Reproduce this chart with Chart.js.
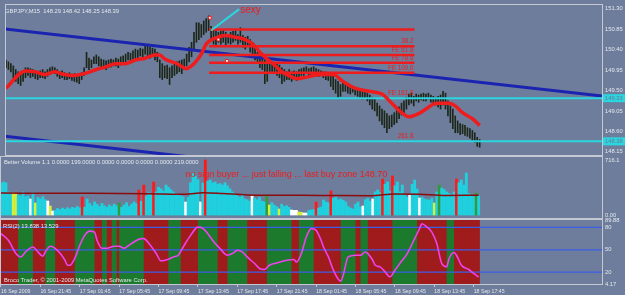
<!DOCTYPE html>
<html>
<head>
<meta charset="utf-8">
<title>GBPJPY,M15</title>
<script src="https://cdn.jsdelivr.net/npm/chart.js"></script>
<style>
    html, body { margin: 0; padding: 0; background: #6e7d9b; }
    body { width: 625px; height: 295px; position: relative; overflow: hidden; }
    canvas { position: absolute; left: 0; }
    #priceChart { top: 0; }
    #volumeChart { top: 150px; }
    #rsiChart { top: 212px; }
</style>
</head>
<body>
<canvas id="priceChart" width="625" height="162"></canvas>
<canvas id="volumeChart" width="625" height="76"></canvas>
<canvas id="rsiChart" width="625" height="83"></canvas>
<script>
// ---- data (M15 bars, bar 0 = 16 Sep 17:45) ----
const timeLabels = ['16 Sep 2009', '16 Sep 21:45', '17 Sep 01:45', '17 Sep 05:45', '17 Sep 09:45',
    '17 Sep 13:45', '17 Sep 17:45', '17 Sep 21:45', '18 Sep 01:45', '18 Sep 05:45',
    '18 Sep 09:45', '18 Sep 13:45', '18 Sep 17:45'];
const barsPerLabel = 16;

const highs = [
    150.17,150.13,150.09,150.04,149.96,149.91,149.87,149.91,150.00,150.00,
    149.98,149.96,149.93,149.91,149.93,149.96,149.91,149.96,150.00,150.02,
    150.00,149.96,149.91,149.93,149.89,149.87,149.89,149.85,149.87,149.85,
    149.87,149.89,150.00,150.34,150.21,150.17,150.24,150.28,150.24,150.19,
    150.17,150.15,150.17,150.19,150.17,150.21,150.19,150.24,150.26,150.30,
    150.34,150.32,150.37,150.41,150.39,150.43,150.41,150.50,150.47,150.45,
    150.43,150.41,150.34,150.17,150.09,150.04,150.06,150.00,150.04,150.09,
    150.13,150.15,150.17,150.19,150.30,150.45,150.56,150.78,150.99,150.99,
    150.95,151.03,151.08,151.14,150.91,150.84,150.82,150.78,150.80,150.82,
    150.78,150.73,150.78,150.80,150.82,150.73,150.88,150.71,150.67,150.69,
    150.62,150.56,150.45,150.34,150.28,150.24,150.17,150.13,150.13,150.09,
    150.06,150.09,150.06,150.00,149.96,149.91,149.96,149.91,149.93,149.91,
    149.96,149.98,150.00,150.02,149.98,150.00,150.02,149.98,149.96,149.93,
    149.91,149.91,149.89,149.85,149.81,149.74,149.70,149.63,149.70,149.65,
    149.63,149.61,149.59,149.57,149.55,149.52,149.50,149.48,149.44,149.40,
    149.35,149.31,149.22,149.16,149.09,149.05,148.99,148.94,148.96,149.01,
    149.05,149.14,149.22,149.27,149.35,149.42,149.44,149.37,149.42,149.40,
    149.42,149.44,149.42,149.44,149.40,149.37,149.35,149.37,149.40,149.48,
    149.44,149.27,149.16,149.09,148.94,148.83,148.77,148.75,148.73,148.68,
    148.66,148.62,148.57,148.47,148.42];
const lows = [
    150.00,149.96,149.91,149.78,149.70,149.65,149.61,149.70,149.78,149.83,
    149.78,149.81,149.76,149.74,149.78,149.78,149.76,149.81,149.85,149.91,
    149.87,149.81,149.76,149.78,149.74,149.74,149.76,149.72,149.70,149.68,
    149.65,149.74,149.83,150.00,149.96,150.00,150.09,150.09,150.04,150.00,
    150.00,149.96,150.00,150.02,150.04,150.04,150.00,150.06,150.09,150.13,
    150.17,150.13,150.19,150.21,150.17,150.26,150.24,150.30,150.26,150.21,
    150.28,150.17,150.13,149.78,149.74,149.78,149.76,149.63,149.78,149.83,
    149.87,149.91,149.87,149.96,150.04,150.13,150.24,150.39,150.56,150.62,
    150.67,150.73,150.78,150.82,150.60,150.52,150.50,150.56,150.52,150.56,
    150.50,150.54,150.52,150.56,150.60,150.52,150.56,150.45,150.41,150.47,
    150.34,150.24,150.17,150.09,150.00,149.96,149.65,149.70,149.87,149.91,
    149.87,149.83,149.78,149.65,149.70,149.74,149.74,149.70,149.76,149.72,
    149.78,149.83,149.83,149.87,149.81,149.85,149.89,149.83,149.81,149.83,
    149.78,149.74,149.72,149.59,149.52,149.44,149.33,149.37,149.48,149.48,
    149.44,149.42,149.46,149.40,149.37,149.33,149.31,149.33,149.27,149.18,
    149.09,149.05,148.94,148.83,148.75,148.68,148.57,148.66,148.70,148.75,
    148.79,148.88,148.96,149.01,149.09,149.18,149.22,149.16,149.27,149.24,
    149.29,149.27,149.27,149.31,149.24,149.22,149.18,149.14,149.09,149.18,
    149.09,148.94,148.79,148.66,148.57,148.57,148.53,148.55,148.51,148.49,
    148.45,148.40,148.36,148.27,148.25];

// red moving average, read at these bars
const maBars = [0,8,12,16,20,24,28,32,37,41,45,49,53,57,61,63,65,70,74,77,80,82,86.5,90,94,98,101.5,104,107,110,
    113,116.5,119,122,126,130,134,138,143,149,154,158,162,165,169,172,175,177.5,181.5,184,187,191,194];
const maValues = [149.55,149.93,149.91,149.85,149.91,149.85,149.83,149.87,149.96,150.02,150.09,150.09,150.17,150.21,
    150.28,150.28,150.19,150.09,149.98,150.09,150.30,150.52,150.67,150.71,150.67,150.62,150.50,150.34,150.19,150.06,
    149.91,149.81,149.76,149.78,149.83,149.85,149.85,149.70,149.55,149.48,149.42,149.22,149.01,148.92,148.99,149.09,
    149.20,149.22,149.22,149.16,149.01,148.88,148.73];

const priceTicks = [151.30, 150.85, 150.40, 149.95, 149.50, 149.05, 148.60, 148.15];
const cyanLevels = [149.33, 148.38];
const trendUpperBars = [-0.4, 244.1];
const trendUpper = [150.85, 149.38];
const trendLowerBars = [-0.4, 80];
const trendLower = [148.49, 148.01];
const fibStart = 83.2, fibEnd = 167.3;
const fibLevels = [150.84, 150.47, 150.28, 150.11, 149.89];
const fibLabelText = ['38.2', 'FE 61.8', 'FE 78.6', 'FE 100.0', 'FE 161.8', '261.8'];
const fibLabelLevels = [150.47, 150.28, 150.11, 149.89, 149.33, 148.38];
const sexyBars = [84, 95.5];
const sexyPrices = [150.82, 151.29];
const markerBars = [83.5, 87, 90.5];
const markerPrices = [151.10, 150.62, 150.15];

const volumes = [
    416,430,420,300,286,286,280,260,250,300,
    240,250,208,290,156,230,210,240,200,182,
    117,52,60,85,70,90,75,95,80,100,
    90,110,95,234,100,208,150,120,170,140,
    110,150,120,100,130,110,140,120,156,100,
    130,160,110,140,170,150,325,180,390,250,
    290,270,429,300,360,340,310,390,360,330,
    300,280,260,250,240,169,230,420,546,500,
    460,169,416,716,440,455,420,430,400,410,
    390,420,380,340,300,280,250,230,260,210,
    200,180,247,220,200,230,180,170,247,130,
    160,130,110,78,140,110,120,100,65,60,
    60,39,35,26,26,60,65,70,169,90,
    104,195,170,160,312,220,234,200,210,190,
    170,110,90,78,140,169,104,117,200,221,
    180,208,300,325,290,468,400,429,312,507,
    380,429,300,390,260,234,260,400,455,338,
    221,234,210,200,195,220,156,300,390,350,
    330,300,280,260,300,468,420,455,390,546,
    280,260,240,286,250];
const volRed = [33, 56, 58, 62, 83, 128, 134, 155, 159, 185];
const volWhite = [12, 19, 21, 75, 81, 102, 118, 119, 120, 123, 124, 147, 151, 166, 170];
const volYellow = [5, 6, 14, 20, 109, 113, 121, 122, 176];
const volGreen = [48, 108, 178, 193];
const volAvgBars = [0, 30, 60, 75, 82, 90, 100, 130, 150, 160, 170, 180, 194];
const volAvg = [285, 283, 278, 270, 290, 280, 262, 255, 250, 275, 270, 255, 258];
const volTicks = [0, 716.1];

const rsiBars = [0,3,6,8,10,13,15,17,18,20,22,24,26,27,28,30,32,34,36,38,39,41,43,46,48,50,52,54,57,58,60,63,65,68,70,
    72,74,77,80,82,84,87,89,92,94,96,98,100,103,105,107,109,112,116,119,120,122,124,126,128,130,131,133,135,138,139,
    141,144,146,148,149,151,152,154,156,158,160,162,165,168,170,171,173,175,177,179,181,182,184,185,187,190,192,194];
const rsiValues = [71.6,62.7,45.3,40.4,47.1,53.7,47.1,41.3,47.1,54.7,52,45.3,36,29.3,29.3,38.7,56,69.3,75,73.7,
    62.7,52,52,54.7,54.7,52,56,60.4,64.9,64.9,58.7,45.3,35.1,37.3,40.4,42.7,53.7,69.3,80.4,78.7,71.6,58.3,51.6,
    42.7,44.9,49.3,47.1,40.4,31.6,24.9,23.6,29.3,32.4,36,36.9,33.7,44.9,67.1,78.3,76,62.7,53.7,40.4,22.7,8,16,
    40.4,42.7,42.7,47.1,44.9,36,29.3,27.1,20.4,13.7,22.7,31.6,44.9,64.9,78.3,84.9,80.4,73.7,58.3,31.6,27.1,38.3,
    46.3,42.7,29.3,23.6,18.3,13.5];
const rsiLevels = [80, 50, 20];
const rsiTicks = [4.17, 20, 50, 80, 89.88];
const rsiGreenZones = [[7,13],[18,22],[30,38],[41,43],[45,47],[48,58],[68,73],[80,88],[92,100],[108,118],
    [121,127],[138,144],[146,149],[159,169],[181,184]];
const lastBar = 194.5;

// ---- look ----
const X_MIN = -0.4, X_MAX = 244.1;
const FONT = "'Liberation Sans', Arial, sans-serif";
const SMALL = '5.8px ' + FONT;
const TXT = '#e4e8ee';
const FRAME = '#c3c8d2';
const RED = '#ee1c1c';
const CYAN = '#2ad6e0';
const BLUE = '#1b24b0';

function xAxis(show) {
    const axis = {
        type: 'linear', min: X_MIN, max: X_MAX, offset: false, display: show,
        grid: { display: show, drawOnChartArea: false, drawTicks: true, tickLength: 3, color: FRAME, offset: false },
        border: { display: false }
    };
    if (show) {
        axis.ticks = {
            autoSkip: false, maxRotation: 0, minRotation: 0, align: 'start', padding: 1, color: TXT,
            font: { family: FONT, size: 5.2 },
            callback: v => timeLabels[Math.round(v / barsPerLabel)]
        };
        axis.afterBuildTicks = s => { s.ticks = timeLabels.map((t, k) => ({ value: k * barsPerLabel })); };
        axis.afterFit = s => { s.height = 11; s.paddingLeft = 0; s.paddingRight = 0; };
    }
    return axis;
}

function yAxis(min, max, list, fmt) {
    return {
        type: 'linear', position: 'right', min: min, max: max,
        grid: { display: false, drawTicks: false },
        border: { display: true, color: FRAME },
        ticks: { padding: 3, color: TXT, font: { family: FONT, size: 5.8 }, callback: fmt },
        afterBuildTicks: s => { s.ticks = list.map(v => ({ value: v })); },
        afterFit: s => { s.width = 23; s.paddingTop = 0; s.paddingBottom = 0; }
    };
}

function segment(xs, ys, color, width, order) {
    return {
        type: 'line', data: xs.map((x, i) => ({ x: x, y: ys[i] })),
        borderColor: color, borderWidth: width, pointRadius: 0, order: order, clip: 0
    };
}

function frame(ctx, a) {
    ctx.strokeStyle = FRAME;
    ctx.lineWidth = 1;
    ctx.strokeRect(a.left + 0.5, a.top - 0.5, a.right - a.left, a.bottom - a.top + 1);
}

const baseOptions = {
    responsive: false, animation: false, devicePixelRatio: 1,
    plugins: { legend: { display: false }, tooltip: { enabled: false } }
};

// ---- price window ----
const priceDecor = {
    id: 'priceDecor',
    afterDatasetsDraw(chart) {
        const { ctx, chartArea: a, scales: { x, y } } = chart;
        ctx.save();
        ctx.fillStyle = RED;
        ctx.font = '6.3px ' + FONT;
        ctx.textAlign = 'right';
        ctx.textBaseline = 'bottom';
        fibLabelText.forEach((t, k) => {
            ctx.fillText(t, x.getPixelForValue(fibEnd) - 1, y.getPixelForValue(fibLabelLevels[k]) - 1.5);
        });
        ctx.font = '10px ' + FONT;
        ctx.textAlign = 'left';
        ctx.textBaseline = 'middle';
        ctx.fillText('sexy', x.getPixelForValue(sexyBars[1]) + 1, y.getPixelForValue(sexyPrices[1]) + 1);

        ctx.font = SMALL;
        cyanLevels.forEach(v => {
            const py = y.getPixelForValue(v);
            ctx.fillStyle = CYAN;
            ctx.fillRect(a.right + 1, py - 4, 22, 8);
            ctx.fillStyle = '#6a7890';
            ctx.fillText(v.toFixed(2), a.right + 3, py);
        });

        ctx.fillStyle = TXT;
        ctx.fillText('GBPJPY,M15  148.29 148.42 148.25 148.39', 5, a.top + 6);
        frame(ctx, a);
        ctx.restore();
    }
};

const priceSets = [
    {
        type: 'bar', data: highs.map((h, i) => ({ x: i, y: [lows[i], h] })),
        backgroundColor: '#1d2719', barThickness: 1, order: 20
    },
    segment(trendUpperBars, trendUpper, BLUE, 3, 12),
    segment(trendLowerBars, trendLower, BLUE, 3, 12)
];
cyanLevels.forEach(v => priceSets.push(segment([X_MIN, X_MAX], [v, v], CYAN, 2, 11)));
fibLevels.forEach(v => priceSets.push(segment([fibStart, fibEnd], [v, v], RED, 2.5, 10)));
priceSets.push(Object.assign(segment(maBars, maValues, RED, 3.5, 5), { cubicInterpolationMode: 'monotone' }));
priceSets.push(segment(sexyBars, sexyPrices, CYAN, 2, 4));
priceSets.push({
    type: 'line', showLine: false, data: markerBars.map((b, i) => ({ x: b, y: markerPrices[i] })),
    pointStyle: 'rect', pointRadius: 2, backgroundColor: '#ffffff', borderColor: RED, borderWidth: 1, order: 3
});

new Chart(document.getElementById('priceChart'), {
    type: 'bar',
    data: { datasets: priceSets },
    options: Object.assign({}, baseOptions, {
        layout: { padding: { top: 2, bottom: 7, left: 0, right: 0 } },
        scales: { x: xAxis(false), y: yAxis(148.08, 151.38, priceTicks, v => v.toFixed(2)) }
    }),
    plugins: [priceDecor]
});

// ---- Better Volume window ----
const volumeDecor = {
    id: 'volumeDecor',
    afterDatasetsDraw(chart) {
        const { ctx, chartArea: a, scales: { x, y } } = chart;
        ctx.save();
        ctx.fillStyle = TXT;
        ctx.font = SMALL;
        ctx.textAlign = 'left';
        ctx.textBaseline = 'middle';
        ctx.fillText('Better Volume 1.1 0.0000 199.0000 0.0000 0.0000 0.0000 0.0000 219.0000', 4, a.top + 5);
        ctx.fillStyle = RED;
        ctx.font = '9px ' + FONT;
        ctx.fillText('no sign buyer ... just falling ... last buy zone 148.70', x.getPixelForValue(74.8), y.getPixelForValue(525));
        frame(ctx, a);
        ctx.restore();
    }
};

const volColors = volumes.map((v, i) =>
    volRed.includes(i) ? '#ff1a1a' :
    volWhite.includes(i) ? '#ffffff' :
    volYellow.includes(i) ? '#d4f03a' :
    volGreen.includes(i) ? '#2f9c3c' : '#1fd0de');

new Chart(document.getElementById('volumeChart'), {
    type: 'bar',
    data: {
        datasets: [
            {
                type: 'bar', data: volumes.map((v, i) => ({ x: i, y: v })),
                backgroundColor: volColors, barThickness: 2.2, order: 10
            },
            Object.assign(segment(volAvgBars, volAvg, '#8a0c0c', 1.5, 2), { cubicInterpolationMode: 'monotone' })
        ]
    },
    options: Object.assign({}, baseOptions, {
        layout: { padding: { top: 7, bottom: 8, left: 0, right: 0 } },
        scales: { x: xAxis(false), y: yAxis(-39, 755, volTicks, v => v === 0 ? '0.00' : v.toFixed(1)) }
    }),
    plugins: [volumeDecor]
});

// ---- RSI window ----
const rsiDecor = {
    id: 'rsiDecor',
    beforeDatasetsDraw(chart) {
        const { ctx, chartArea: a, scales: { x } } = chart;
        ctx.save();
        ctx.fillStyle = '#a01c1c';
        ctx.fillRect(a.left, a.top, x.getPixelForValue(lastBar) - a.left, a.bottom - a.top);
        ctx.fillStyle = '#1c7a2c';
        rsiGreenZones.forEach(z => {
            const x0 = x.getPixelForValue(z[0]);
            ctx.fillRect(x0, a.top, x.getPixelForValue(z[1]) - x0, a.bottom - a.top);
        });
        ctx.restore();
    },
    afterDatasetsDraw(chart) {
        const { ctx, chartArea: a } = chart;
        ctx.save();
        ctx.fillStyle = TXT;
        ctx.font = SMALL;
        ctx.textAlign = 'left';
        ctx.textBaseline = 'middle';
        ctx.fillText('RSI(2) 13.838 13.529', 3, a.top + 6);
        ctx.fillText('Broco Trader, \u00a9 2001-2009 MetaQuotes Software Corp.', 4, a.bottom - 4);
        frame(ctx, a);
        ctx.restore();
    }
};

const rsiSets = rsiLevels.map(v => segment([X_MIN, X_MAX], [v, v], '#3d5ee8', 1.2, 6));
rsiSets.push(Object.assign(segment(rsiBars, rsiValues, '#f040f0', 1.6, 1), { cubicInterpolationMode: 'monotone' }));

new Chart(document.getElementById('rsiChart'), {
    type: 'line',
    data: { datasets: rsiSets },
    options: Object.assign({}, baseOptions, {
        layout: { padding: { top: 8, bottom: 0, left: 0, right: 0 } },
        scales: { x: xAxis(true), y: yAxis(4.17, 89.88, rsiTicks, v => String(v)) }
    }),
    plugins: [rsiDecor]
});
</script>
</body>
</html>
